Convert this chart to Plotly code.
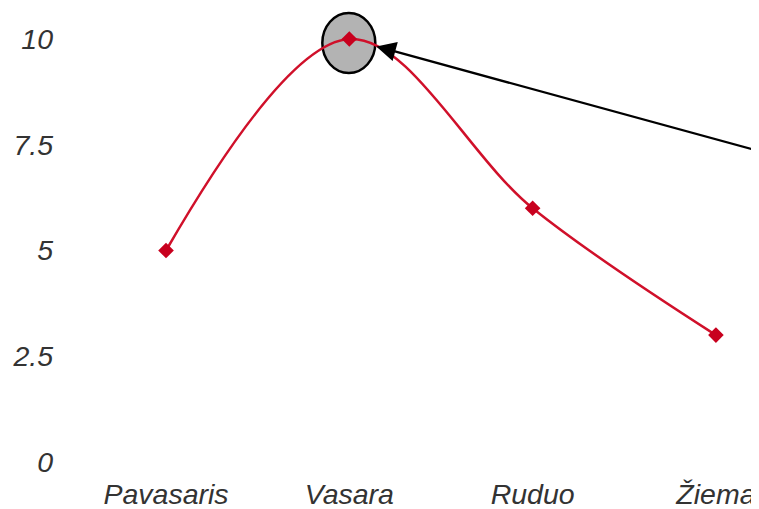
import plotly.graph_objects as go

categories = ["Pavasaris", "Vasara", "Ruduo", "Žiema"]
values = [5, 10, 6, 3]
y_ticks = [0, 2.5, 5, 7.5, 10]
y_tick_labels = ["0", "2.5", "5", "7.5", "10"]

line_color = "#d0102a"
marker_color = "#c8001e"
text_color = "#333333"
font_family = "Liberation Sans, Arial, sans-serif"

fig = go.Figure()
fig.add_trace(go.Scatter(
    x=categories, y=values, mode="lines+markers",
    line=dict(color=line_color, width=2.5, shape="spline", smoothing=1.0),
    marker=dict(symbol="diamond", size=12, color=marker_color),
    cliponaxis=False, hoverinfo="skip",
))

# highlight circle around the peak
fig.add_shape(
    type="circle", xref="x", yref="y",
    xsizemode="pixel", ysizemode="pixel",
    xanchor=1, yanchor=10,
    x0=-27, x1=26, y0=-34, y1=26,
    fillcolor="#b3b3b3", line=dict(color="black", width=2.5),
    layer="below",
)

fig.add_annotation(
    x=1, y=10, xref="x", yref="y", text="",
    showarrow=True, arrowhead=2, arrowsize=1.7, arrowwidth=2.3,
    arrowcolor="black", standoff=28,
    ax=410, ay=112,
)

fig.update_layout(
    width=751, height=501,
    margin=dict(l=66, r=0, t=0, b=47),
    plot_bgcolor="white", paper_bgcolor="white",
    showlegend=False,
    font=dict(family=font_family, size=28.5, color=text_color),
)
fig.update_xaxes(
    range=[-0.502, 3.235], showgrid=False, zeroline=False, showline=False,
    tickfont=dict(family=font_family, size=28.5, color=text_color, style="italic"),
    ticks="", ticklabelstandoff=12, automargin=False,
)
fig.update_yaxes(
    range=[0, 10.733], tickvals=y_ticks, ticktext=y_tick_labels,
    showgrid=False, zeroline=False, showline=False,
    tickfont=dict(family=font_family, size=28.5, color=text_color, style="italic"),
    ticks="", ticklabelstandoff=20, automargin=False,
)

fig.write_html("out.html")
